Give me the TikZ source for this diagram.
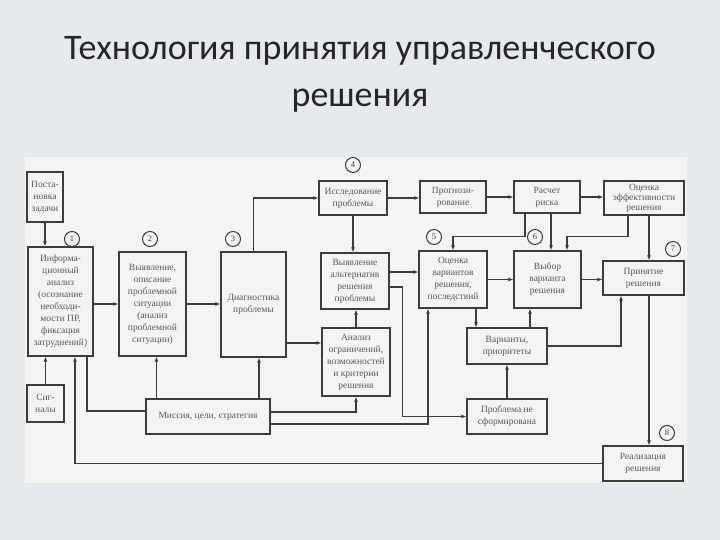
\documentclass[tikz,border=0pt]{standalone}
\usepackage{fontspec}
\setmainfont{Liberation Serif}
\newfontfamily\titlefont{Carlito}
\usetikzlibrary{arrows.meta}

\definecolor{slidebg}{HTML}{E6EAEF}
\definecolor{paper}{HTML}{F4F4F2}
\definecolor{ink}{HTML}{3C3C3C}

\begin{document}
\begin{tikzpicture}[x=1pt, y=-1pt,
    stage/.style ={draw=ink, line width=1.2pt, text=ink!85, align=center, inner sep=0.5pt,
                   font=\fontsize{9.5}{12}\selectfont},
    num/.style ={circle, draw=ink, line width=1pt, inner sep=0pt, minimum size=15pt,
                 text=ink, font=\fontsize{8.5}{8.5}\selectfont},
    arr/.style ={draw=ink, line width=1.1pt, -{Latex[length=5pt,width=4pt]}},
    link/.style ={draw=ink, line width=1.1pt}]
   \useasboundingbox (0,0) rectangle (720,540);
   \fill[slidebg] (0,0) rectangle (720,540);
   \fill[paper] (25,157) rectangle (687,483);

   \node[text=black!85, align=center, font=\titlefont\fontsize{36}{47}\selectfont] (title) at (360,74)
      {Технология принятия управленческого\\решения};

   \node[stage, minimum width=36, minimum height=50]  (task) at (45,197)  {Поста-\\новка\\задачи};
   \node[stage, minimum width=65, minimum height=109] (info) at (60.5,301.5)
      {Информа-\\ционный\\анализ\\(осознание\\необходи-\\мости ПР,\\фиксация\\затруднений)};
   \node[stage, minimum width=67, minimum height=104] (situation) at (152.5,304)
      {Выявление,\\описание\\проблемной\\ситуации\\(анализ\\проблемной\\ситуации)};
   \node[stage, minimum width=65, minimum height=105] (diag) at (253.5,304.5) {Диагностика\\проблемы};
   \node[stage, minimum width=68, minimum height=34]  (research) at (353,198) {Исследование\\проблемы};
   \node[stage, minimum width=68, minimum height=56]  (alt) at (355,281)
      {Выявление\\альтернатив\\решения\\проблемы};
   \node[stage, minimum width=68, minimum height=68]  (analysis) at (356,362)
      {Анализ\\ограничений,\\возможностей\\и критерии\\решения};
   \node[stage, minimum width=124, minimum height=35] (mission) at (208,416.5) {Миссия, цели, стратегия};
   \node[stage, minimum width=37, minimum height=37]  (signals) at (45.5,403.5) {Сиг-\\налы};
   \node[stage, minimum width=66, minimum height=32]  (forecast) at (453,197) {Прогнози-\\рование};
   \node[stage, minimum width=66, minimum height=32]  (risk) at (547,197) {Расчет\\риска};
   \node[stage, minimum width=80, minimum height=34, font=\fontsize{9.5}{10}\selectfont] (efficiency) at (644,198)
      {Оценка\\эффективности\\решения};
   \node[stage, minimum width=68, minimum height=57]  (evaluate) at (453,279.5)
      {Оценка\\вариантов\\решения,\\последствий};
   \node[stage, minimum width=67, minimum height=57]  (choice) at (547.5,279.5) {Выбор\\варианта\\решения};
   \node[stage, minimum width=81, minimum height=34]  (decision) at (643.5,278) {Принятие\\решения};
   \node[stage, minimum width=80, minimum height=36]  (variants) at (507,346) {Варианты,\\приоритеты};
   \node[stage, minimum width=80, minimum height=35]  (notformed) at (507,416.5) {Проблема не\\сформирована};
   \node[stage, minimum width=80, minimum height=35]  (realize) at (643,463.5) {Реализация\\решения};

   \node[num] (n1) at (72,239)  {1};
   \node[num] (n2) at (150,239) {2};
   \node[num] (n3) at (233,239) {3};
   \node[num] (n4) at (353,165) {4};
   \node[num] (n5) at (434,237) {5};
   \node[num] (n6) at (535,237) {6};
   \node[num] (n7) at (673,249) {7};
   \node[num] (n8) at (667,433) {8};

   \draw[arr] (task.south) -- (task.south |- info.north);
   \draw[arr] (info.east |- situation) -- (situation.west);
   \draw[arr] (situation.east) -- (situation.east -| diag.west);
   \draw[arr] (diag.north) |- (research.west);
   \draw[arr] ([yshift=-38.5pt]diag.east) -- ([yshift=-38.5pt]diag.east -| analysis.west);
   \draw[arr] (research.east) -- (research.east -| forecast.west);
   \draw[arr] (forecast.east) -- (risk.west);
   \draw[arr] (risk.east) -- (risk.east -| efficiency.west);
   \draw[arr] (research.south) -- (research.south |- alt.north);
   \draw[arr] (analysis.north) -- (analysis.north |- alt.south);
   \draw[arr] ([yshift=9pt]alt.east) -- ([yshift=9pt]alt.east -| evaluate.west);
   \draw[arr] ([yshift=-6pt]alt.east) -- ++(13,0) |- (notformed.west);
   \draw[arr] ([xshift=4pt]situation.south |- mission.north) -- ([xshift=4pt]situation.south);
   \draw[arr] ([xshift=5.5pt]diag.south |- mission.north) -- ([xshift=5.5pt]diag.south);
   \draw[link] ([xshift=26.5pt]info.south) |- ([yshift=5.5pt]mission.west);
   \draw[arr] (signals.north) -- (signals.north |- info.south);
   \draw[arr] (realize.west) -| ([xshift=14.5pt]info.south);
   \draw[arr] ([yshift=4.5pt]mission.east) -| (analysis.south);
   \draw[arr] ([yshift=-7.5pt]mission.east) -| ([xshift=-25pt]evaluate.south);
   \draw[arr] (evaluate.east) -- (choice.west);
   \draw[arr] (choice.east) -- (choice.east -| decision.west);
   \draw[arr] ([xshift=-22pt]risk.south) -- ++(0,23) -| (evaluate.north);
   \draw[arr] ([xshift=4pt]risk.south) -- ([xshift=4pt]risk.south |- choice.north);
   \draw[arr] ([xshift=-16pt]efficiency.south) -- ++(0,21) -| ([xshift=19.5pt]choice.north);
   \draw[arr] ([xshift=5pt]efficiency.south) -- ([xshift=5pt]efficiency.south |- decision.north);
   \draw[arr] ([xshift=5.5pt]decision.south) -- ([xshift=5.5pt]decision.south |- realize.north);
   \draw[arr] ([xshift=23pt]evaluate.south) -- ([xshift=23pt]evaluate.south |- variants.north);
   \draw[arr] ([xshift=23pt]variants.north) -- ([xshift=23pt]variants.north |- choice.south);
   \draw[arr] (variants.east) -| ([xshift=-22.5pt]decision.south);
   \draw[arr] (notformed.north) -- (variants.south);
\end{tikzpicture}
\end{document}
